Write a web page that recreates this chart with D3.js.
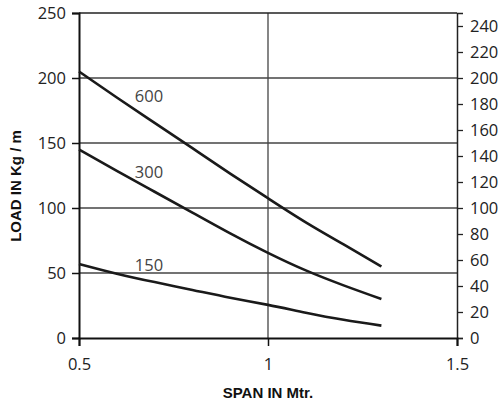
<!DOCTYPE html>
<html>
<head>
<meta charset="utf-8">
<script src="https://cdn.jsdelivr.net/npm/d3@7"></script>
<style>
  body { margin: 0; background: #fff; }
  svg { display: block; }
</style>
</head>
<body>
<div id="chart"></div>
<script>
// spans (m) and safe loads (kg/m)
const span = [0.5, 0.6, 0.7, 0.8, 0.9, 1.0, 1.1, 1.2, 1.3];
const load600 = [205, 185, 165.5, 146, 126.5, 107.5, 89, 72, 55];
const load300 = [145, 128.5, 112.5, 96.5, 80.5, 65.5, 52, 40.5, 30];
const load150 = [57, 49.5, 43, 37, 31, 25.5, 19.5, 14, 9.5];
const seriesNames = ["600", "300", "150"];
const labelPos = [[0.685, 181.5], [0.685, 123], [0.685, 51.5]];
const xTicks = [0.5, 1, 1.5];
const yTicksLeft = [0, 50, 100, 150, 200, 250];
const yTicksRight = [0, 20, 40, 60, 80, 100, 120, 140, 160, 180, 200, 220, 240];

const W = 501, H = 406;
const m = { top: 13, right: 44, bottom: 68, left: 79 };

const svg = d3.select("#chart").append("svg")
    .attr("width", W).attr("height", H);

const x = d3.scaleLinear().domain([0.5, 1.5]).range([m.left, W - m.right]);
const y = d3.scaleLinear().domain([0, 250]).range([H - m.bottom, m.top]);

// grid
svg.append("g").selectAll("line")
    .data([50, 100, 150, 200])
    .join("line")
    .attr("x1", x(0.5)).attr("x2", x(1.5))
    .attr("y1", d => y(d)).attr("y2", d => y(d))
    .attr("stroke", "#444").attr("stroke-width", 1.3);
svg.append("line")
    .attr("x1", x(1)).attr("x2", x(1))
    .attr("y1", y(0)).attr("y2", y(250))
    .attr("stroke", "#444").attr("stroke-width", 1.3);
// top border
svg.append("line")
    .attr("x1", x(0.5)).attr("x2", x(1.5))
    .attr("y1", y(250)).attr("y2", y(250))
    .attr("stroke", "#222").attr("stroke-width", 1.5);

const tickFont = g => g.selectAll("text")
    .style("font-family", "'Open Sans', sans-serif")
    .style("font-size", "16.5px")
    .attr("fill", "#222");

svg.append("g")
    .attr("transform", `translate(${m.left},0)`)
    .call(d3.axisLeft(y).tickValues(yTicksLeft).tickSize(7).tickPadding(6).tickFormat(d3.format("d")))
    .call(g => g.select(".domain").attr("stroke", "#111").attr("stroke-width", 2))
    .call(g => g.selectAll(".tick line").attr("stroke", "#111").attr("stroke-width", 1.5))
    .call(tickFont);

svg.append("g")
    .attr("transform", `translate(${W - m.right},0)`)
    .call(d3.axisRight(y).tickValues(yTicksRight).tickSize(6).tickPadding(7).tickFormat(d3.format("d")))
    .call(g => g.select(".domain").attr("stroke", "#222").attr("stroke-width", 1.5))
    .call(g => g.selectAll(".tick line").attr("stroke", "#222").attr("stroke-width", 1.3))
    .call(tickFont);

svg.append("g")
    .attr("transform", `translate(0,${H - m.bottom})`)
    .call(d3.axisBottom(x).tickValues(xTicks).tickSize(8).tickPadding(12).tickFormat(d => d))
    .call(g => g.select(".domain").attr("stroke", "#111").attr("stroke-width", 2))
    .call(g => g.selectAll(".tick line").attr("stroke", "#111").attr("stroke-width", 1.5))
    .call(tickFont);

// curves
const line = d3.line()
    .x(d => x(d[0]))
    .y(d => y(d[1]))
    .curve(d3.curveNatural);

[load600, load300, load150].forEach((vals, i) => {
    svg.append("path")
        .datum(span.map((s, j) => [s, vals[j]]))
        .attr("d", line)
        .attr("fill", "none")
        .attr("stroke", "#1a1a1a")
        .attr("stroke-width", 2.6);
    svg.append("text")
        .attr("x", x(labelPos[i][0]))
        .attr("y", y(labelPos[i][1]))
        .attr("text-anchor", "middle")
        .style("font-family", "'Open Sans', sans-serif")
        .style("font-size", "16.5px")
        .attr("fill", "#444")
        .text(seriesNames[i]);
});

// axis titles
svg.append("text")
    .attr("x", (x(0.5) + x(1.5)) / 2)
    .attr("y", 398)
    .attr("text-anchor", "middle")
    .style("font-family", "'Liberation Sans', Arial, sans-serif")
    .style("font-weight", "bold")
    .style("font-size", "15px")
    .attr("fill", "#111")
    .text("SPAN IN Mtr.");

svg.append("text")
    .attr("transform", "translate(21,186) rotate(-90)")
    .attr("text-anchor", "middle")
    .style("font-family", "'Liberation Sans', Arial, sans-serif")
    .style("font-weight", "bold")
    .style("font-size", "15px")
    .attr("fill", "#111")
    .text("LOAD IN Kg / m");
</script>
</body>
</html>
